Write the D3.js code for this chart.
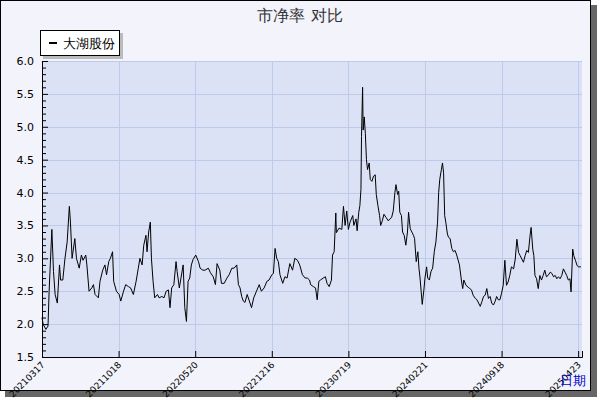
<!DOCTYPE html>
<html>
<head>
<meta charset="utf-8">
<script src="https://cdn.jsdelivr.net/npm/d3@7"></script>
<style>
  body { margin: 0; background: #fff; }
  text { font-family: "DejaVu Sans", sans-serif; }
</style>
</head>
<body>
<div id="chart"></div>
<script>
// trading-day index and price-to-book value
const days = [0,2,7,11,13,18,21,24,28,32,34,38,42,46,50,52,55,60,63,68,72,75,80,82,86,91,94,97,103,106,111,115,118,122,125,129,131,136,141,144,149,153,158,162,167,172,176,179,183,186,190,192,195,198,200,203,206,211,214,219,223,227,231,234,237,241,245,247,251,254,258,261,264,267,270,273,276,281,286,
  289,294,298,304,308,313,317,320,325,328,333,338,342,347,351,356,359,362,365,368,371,375,379,383,387,392,397,401,406,411,415,420,423,426,429,432,435,440,444,448,453,458,462,467,471,476,481,485,489,491,496,500,503,506,509,514,518,521,525,529,531,534,537,538,543,548,551,554,557,560,
  563,568,570,574,576,579,581,583,584,586,587,589,591,593,595,598,600,603,606,609,611,614,617,619,622,625,629,633,636,639,642,645,647,650,652,654,657,659,662,665,668,670,673,676,679,681,684,687,689,691,693,695,698,700,703,705,708,711,714,717,720,723,725,727,730,732,734,736,738,741,743,746,749,752,755,758,763,
  767,769,771,775,779,782,785,788,792,795,798,801,804,807,810,813,816,819,822,825,828,831,834,837,840,843,846,849,852,855,858,862,865,868,871,874,877,880,883,886,889,892,894,897,899,901,904,907,910,913,916,919,922,925,929,932,935,938,941,944,947,950,953,956,959,962,965,967,970,972,975,978,981,985];
const pb = [2.1,2.0,1.92,1.97,2.5,3.44,2.8,2.45,2.32,2.9,2.67,2.67,3.0,3.25,3.79,3.55,3.0,3.3,3.0,2.85,3.05,2.97,3.05,2.9,2.5,2.55,2.6,2.45,2.4,2.65,2.82,2.9,2.75,2.95,3.0,3.1,2.65,2.5,2.45,2.35,2.5,2.6,2.57,2.55,2.45,2.65,2.85,3.0,2.9,3.2,3.35,3.1,3.4,3.55,3.0,2.65,2.4,2.45,2.4,2.42,2.4,2.5,2.52,2.25,2.55,2.6,2.95,2.8,2.55,2.7,2.9,2.25,2.04,2.65,2.7,2.9,2.98,3.05,2.95,
  2.85,2.82,2.82,2.85,2.78,2.72,2.6,2.92,2.82,2.62,2.62,2.7,2.75,2.85,2.85,2.9,2.6,2.55,2.42,2.35,2.33,2.45,2.35,2.25,2.4,2.5,2.6,2.5,2.55,2.65,2.67,2.75,2.77,3.15,3.0,2.95,2.75,2.62,2.72,2.7,2.92,2.82,3.0,2.97,2.9,2.75,2.7,2.7,2.67,2.6,2.57,2.55,2.37,2.65,2.67,2.7,2.72,2.62,2.57,2.67,3.05,3.1,3.69,3.39,3.46,3.44,3.79,3.5,3.72,3.44,
  3.55,3.65,3.5,3.6,3.42,3.7,3.8,4.05,4.85,5.6,4.95,5.15,4.9,4.5,4.35,4.45,4.2,4.17,4.25,4.27,3.97,3.8,3.65,3.5,3.57,3.67,3.62,3.57,3.6,3.62,3.72,4.0,4.12,3.97,4.02,3.7,3.65,3.4,3.35,3.2,3.4,3.7,3.45,3.4,3.35,3.3,2.95,3.1,2.85,2.7,2.5,2.3,2.52,2.7,2.87,2.7,2.67,2.8,2.85,3.1,3.25,3.55,4.0,4.2,4.35,4.45,4.3,3.65,3.55,3.37,3.32,3.3,3.15,3.1,3.12,3.05,2.9,
  2.64,2.54,2.67,2.59,2.56,2.54,2.52,2.44,2.39,2.37,2.32,2.27,2.34,2.42,2.44,2.54,2.39,2.42,2.32,2.29,2.34,2.42,2.37,2.37,2.47,2.59,2.97,2.59,2.64,2.74,2.87,2.84,2.99,3.29,3.09,3.04,2.99,2.94,3.04,3.12,3.09,3.34,3.47,3.14,3.04,2.74,2.69,2.54,2.74,2.67,2.74,2.82,2.72,2.74,2.79,2.77,2.72,2.74,2.69,2.72,2.69,2.74,2.84,2.79,2.74,2.67,2.69,2.49,3.14,3.04,2.97,2.89,2.87,2.87];
const tickDays = [0,140,280,420,560,700,840,980];
const tickLabels = ["20210317","20211018","20220520","20221216","20230719","20240221","20240918","20250423"];
const yTicks = [1.5,2.0,2.5,3.0,3.5,4.0,4.5,5.0,5.5,6.0];
const seriesName = "大湖股份";
const title = "市净率  对比";

const W = 600, H = 400;
const plot = { left: 42, right: 582, top: 61, bottom: 357 };

const svg = d3.select("#chart").append("svg").attr("width", W).attr("height", H);

// frame with shadow
svg.append("rect").attr("x", 5).attr("y", 5).attr("width", 592).attr("height", 392).attr("fill", "#666");
svg.append("rect").attr("x", 0.5).attr("y", 0.5).attr("width", 590).attr("height", 390)
  .attr("fill", "#f2f3fb").attr("stroke", "#000");

const x = d3.scaleLinear().domain([0, 987]).range([plot.left, plot.right]);
const y = d3.scaleLinear().domain([1.5, 6.0]).range([plot.bottom, plot.top]);

svg.append("rect").attr("x", plot.left).attr("y", plot.top)
  .attr("width", plot.right - plot.left).attr("height", plot.bottom - plot.top).attr("fill", "#dce2f6");

const grid = svg.append("g").attr("stroke", "#bccbea").attr("stroke-width", 1);
grid.selectAll(".h").data(yTicks.slice(1)).join("line")
  .attr("x1", plot.left).attr("x2", plot.right)
  .attr("y1", d => Math.round(y(d)) + 0.5).attr("y2", d => Math.round(y(d)) + 0.5);
grid.selectAll(".v").data(tickDays.slice(1)).join("line")
  .attr("y1", plot.top).attr("y2", plot.bottom)
  .attr("x1", d => Math.round(x(d)) + 0.5).attr("x2", d => Math.round(x(d)) + 0.5);

// y axis with minor ticks
const yAxis = d3.axisLeft(y).tickValues(d3.range(15, 61).map(v => v / 10)).tickSize(-4)
  .tickFormat(d => yTicks.some(t => Math.abs(t - d) < 1e-6) ? d.toFixed(1) : "");
const ya = svg.append("g").attr("transform", `translate(${plot.left},0)`).call(yAxis);
ya.selectAll("text").attr("font-size", 11).attr("fill", "#000").attr("x", -8);
ya.selectAll(".tick line").attr("x2", d => yTicks.some(t => Math.abs(t - d) < 1e-6) ? 6 : 4);
ya.select(".domain").attr("stroke", "#000");

// x axis
const xAxis = d3.axisBottom(x).tickValues(tickDays).tickSize(-6).tickFormat((d, i) => tickLabels[i]);
const xa = svg.append("g").attr("transform", `translate(0,${plot.bottom})`).call(xAxis);
xa.select(".domain").attr("stroke", "#000");
xa.selectAll("text").attr("font-size", 9).attr("fill", "#000")
  .attr("text-anchor", "end").attr("dy", 0).attr("y", 4)
  .attr("transform", "rotate(-45) translate(-4,4)");

// line
const line = d3.line().x((d, i) => x(days[i])).y(d => y(d));
svg.append("path").datum(pb).attr("d", line).attr("fill", "none").attr("stroke", "#000").attr("stroke-width", 1);

// title
svg.append("text").attr("x", 300).attr("y", 21).attr("text-anchor", "middle")
  .attr("font-size", 16).attr("fill", "#333").attr("font-family", "Noto Sans CJK SC").text(title);

// legend
svg.append("rect").attr("x", 43).attr("y", 33).attr("width", 80).attr("height", 26).attr("fill", "#bbb");
svg.append("rect").attr("x", 40.5).attr("y", 30.5).attr("width", 79).attr("height", 25).attr("fill", "#fff").attr("stroke", "#000");
svg.append("line").attr("x1", 49).attr("x2", 57).attr("y1", 43).attr("y2", 43).attr("stroke", "#000").attr("stroke-width", 2);
svg.append("text").attr("x", 63).attr("y", 48).attr("font-size", 13).attr("font-family", "Noto Sans CJK SC").text(seriesName);

// x axis name
svg.append("text").attr("x", 573).attr("y", 385).attr("text-anchor", "middle")
  .attr("font-size", 13).attr("fill", "#0000cc").attr("font-family", "Noto Sans CJK SC").text("日期");
</script>
</body>
</html>
